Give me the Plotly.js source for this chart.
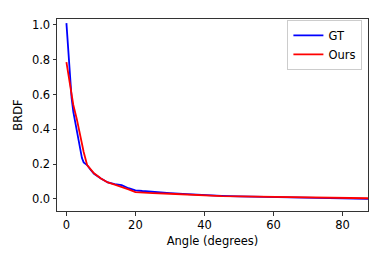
<!DOCTYPE html>
<html>
<head>
<meta charset="utf-8">
<script src="https://cdn.plot.ly/plotly-3.0.1.min.js"></script>
<style>html,body{margin:0;padding:0;background:#fff}#chart{width:381px;height:255px}</style>
</head>
<body>
<div id="chart"></div>
<script>
const gtAngle = [0, 0.5, 1, 1.5, 2, 2.5, 3, 3.5, 4, 4.5, 5, 6, 7, 8, 10, 12, 14, 16, 18, 20, 22, 25, 30, 35, 40, 45, 50, 60, 70, 80, 88];
const gtValue = [1.01, 0.86, 0.73, 0.58, 0.50, 0.445, 0.38, 0.33, 0.28, 0.235, 0.21, 0.195, 0.168, 0.145, 0.118, 0.095, 0.085, 0.080, 0.062, 0.050, 0.046, 0.040, 0.034, 0.028, 0.022, 0.018, 0.015, 0.012, 0.008, 0.005, 0.0];
const oursAngle = [0, 1, 2, 3, 4, 5, 6, 7, 8, 10, 12, 14, 16, 18, 20, 22, 25, 30, 35, 40, 45, 50, 60, 70, 80, 88];
const oursValue = [0.786, 0.66, 0.54, 0.46, 0.355, 0.27, 0.195, 0.170, 0.148, 0.118, 0.095, 0.083, 0.071, 0.055, 0.040, 0.037, 0.034, 0.030, 0.025, 0.020, 0.017, 0.015, 0.012, 0.009, 0.006, 0.004];
const seriesNames = ["GT", "Ours"];
const xTicks = [0, 20, 40, 60, 80];
const yTicks = [0.0, 0.2, 0.4, 0.6, 0.8, 1.0];

const font = {family: "DejaVu Sans", size: 11.5, color: "#000"};
const data = [
  {x: gtAngle, y: gtValue, name: seriesNames[0], mode: "lines", line: {color: "#0000ff", width: 1.8}},
  {x: oursAngle, y: oursValue, name: seriesNames[1], mode: "lines", line: {color: "#ff0000", width: 1.8}}
];
const axisCommon = {
  showline: true, linecolor: "#333", linewidth: 1, mirror: true,
  ticks: "outside", ticklen: 3.5, tickwidth: 1, tickcolor: "#333",
  showgrid: false, zeroline: false, tickfont: font
};
const layout = {
  width: 381, height: 255,
  margin: {l: 57, r: 13, t: 19, b: 44},
  paper_bgcolor: "#fff", plot_bgcolor: "#fff",
  font: font,
  xaxis: Object.assign({}, axisCommon, {
    range: [-2.73, 87.4], tickvals: xTicks, ticktext: xTicks.map(String),
    title: {text: "Angle (degrees)", font: font, standoff: 5}
  }),
  yaxis: Object.assign({}, axisCommon, {
    range: [-0.069, 1.034], tickvals: yTicks, ticktext: yTicks.map(v => v.toFixed(1)),
    title: {text: "BRDF", font: font, standoff: 6}
  }),
  showlegend: true,
  legend: {
    x: 0.982, xanchor: "right", y: 0.995, yanchor: "top",
    bgcolor: "rgba(255,255,255,0.8)", bordercolor: "#ccc", borderwidth: 1,
    font: {family: "DejaVu Sans", size: 11.5, color: "#000"},
    itemwidth: 30, tracegroupgap: 0
  }
};
Plotly.newPlot("chart", data, layout, {displayModeBar: false, staticPlot: true});
</script>
</body>
</html>
